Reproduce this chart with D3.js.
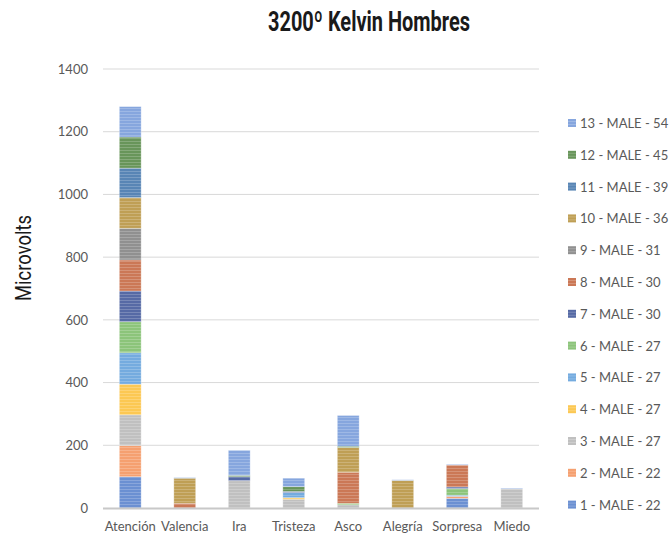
<!DOCTYPE html>
<html>
<head>
<meta charset="utf-8">
<script src="https://cdn.jsdelivr.net/npm/d3@7"></script>
<style>
  html, body { margin: 0; padding: 0; background: #fff; }
  svg { display: block; }
</style>
</head>
<body>
<svg id="chart" width="672" height="537"></svg>
<script>
// Emotion categories on the x axis
const categories = ["Atención", "Valencia", "Ira", "Tristeza", "Asco", "Alegría", "Sorpresa", "Miedo"];

// One array per subject (microvolts per emotion)
const s1  = [100,  0,  0,  0,  0,  0, 31,  0];
const s2  = [ 99,  0,  0,  0,  0,  0,  6,  0];
const s3  = [ 98,  0, 87, 28, 10,  0,  0, 61];
const s4  = [ 98,  0,  0,  5,  0,  0,  0,  0];
const s5  = [100,  0,  0, 16,  0,  0,  4,  0];
const s6  = [ 99,  0,  0,  0,  5,  0, 21,  0];
const s7  = [ 98,  0, 13,  4,  0,  0,  5,  0];
const s8  = [ 99, 15,  0,  0, 99,  0, 70,  0];
const s9  = [101,  0,  0,  0,  0,  0,  0,  0];
const s10 = [ 98, 80,  0,  0, 79, 88,  0,  0];
const s11 = [ 94,  0,  0,  0,  0,  0,  0,  0];
const s12 = [ 99,  0,  4, 15,  4,  0,  0,  0];
const s13 = [ 97,  2, 80, 27, 98,  2,  2,  2];

const seriesNames = [
  "1 - MALE - 22", "2 - MALE - 22", "3 - MALE - 27", "4 - MALE - 27", "5 - MALE - 27",
  "6 - MALE - 27", "7 - MALE - 30", "8 - MALE - 30", "9 - MALE - 31", "10 - MALE - 36",
  "11 - MALE - 39", "12 - MALE - 45", "13 - MALE - 54"
];
const seriesValues = [s1, s2, s3, s4, s5, s6, s7, s8, s9, s10, s11, s12, s13];
const seriesColors = [
  "#6b90d2", "#f5a070", "#c0c0c0", "#fcc853", "#74abdf", "#8cc47a", "#566aa5",
  "#cb7856", "#909090", "#bf9f55", "#5885b5", "#68955a", "#86a6de"
];
const yTicks = [0, 200, 400, 600, 800, 1000, 1200, 1400];

const svg = d3.select("#chart");
const margin = { left: 103, right: 539, top: 69, bottom: 508 };

// Flatten into rows for d3.stack
const keys = seriesNames;
const rows = categories.map((c, i) => {
  const r = { cat: c };
  keys.forEach((k, j) => { r[k] = seriesValues[j][i]; });
  return r;
});
const stacked = d3.stack().keys(keys)(rows);

const x = d3.scaleBand().domain(categories).range([margin.left, margin.right]).paddingInner(0.6).paddingOuter(0.3);
const y = d3.scaleLinear().domain([0, 1400]).range([margin.bottom, margin.top]);
const color = d3.scaleOrdinal().domain(keys).range(seriesColors);

// Horizontal stripe texture used on bars and legend keys
const defs = svg.append("defs");
const pat = defs.append("pattern")
  .attr("id", "stripes").attr("patternUnits", "userSpaceOnUse")
  .attr("width", 6).attr("height", 3);
pat.append("rect").attr("width", 6).attr("height", 1).attr("fill", "#ffffff").attr("opacity", 0.2);

// Gridlines
svg.append("g")
  .selectAll("line")
  .data(yTicks.filter(d => d > 0))
  .join("line")
  .attr("x1", margin.left).attr("x2", margin.right)
  .attr("y1", d => y(d)).attr("y2", d => y(d))
  .attr("stroke", "#d9d9d9").attr("stroke-width", 1);

// Y axis labels
const yAxis = svg.append("g")
  .attr("transform", `translate(${margin.left},0)`)
  .call(d3.axisLeft(y).tickValues(yTicks).tickFormat(d3.format("d")).tickSize(0).tickPadding(15));
yAxis.select(".domain").remove();
yAxis.selectAll("text")
  .attr("font-family", "Lato, 'Open Sans', sans-serif")
  .attr("font-size", 13).attr("fill", "#595959");

// Stacked bars
const layers = svg.append("g")
  .selectAll("g")
  .data(stacked)
  .join("g")
  .attr("fill", d => color(d.key));

layers.selectAll("rect.bar")
  .data(d => d.filter(s => s[1] - s[0] > 0))
  .join("rect")
  .attr("class", "bar")
  .attr("x", d => x(d.data.cat))
  .attr("y", d => y(d[1]))
  .attr("width", x.bandwidth())
  .attr("height", d => y(d[0]) - y(d[1]));

layers.selectAll("rect.tex")
  .data(d => d.filter(s => s[1] - s[0] > 0))
  .join("rect")
  .attr("class", "tex")
  .attr("x", d => x(d.data.cat))
  .attr("y", d => y(d[1]))
  .attr("width", x.bandwidth())
  .attr("height", d => y(d[0]) - y(d[1]))
  .attr("fill", "url(#stripes)")
  .attr("stroke", "#ffffff").attr("stroke-opacity", 0.35).attr("stroke-width", 0.8);

// Baseline
svg.append("line")
  .attr("x1", margin.left).attr("x2", margin.right)
  .attr("y1", y(0) + 0.5).attr("y2", y(0) + 0.5)
  .attr("stroke", "#c8c8c8").attr("stroke-width", 2);

// Category labels
const xAxis = svg.append("g")
  .attr("transform", `translate(0,${y(0)})`)
  .call(d3.axisBottom(x).tickSize(0).tickPadding(14));
xAxis.select(".domain").remove();
xAxis.selectAll("text")
  .attr("font-family", "Lato, 'Open Sans', sans-serif")
  .attr("font-size", 13).attr("fill", "#595959");

// Legend (series 13 at the top down to series 1)
const legend = svg.append("g");
const legendItems = legend.selectAll("g")
  .data(keys.slice().reverse())
  .join("g")
  .attr("transform", (d, i) => `translate(568,${124 + i * 31.8})`);
legendItems.append("rect")
  .attr("x", 0).attr("y", -5).attr("width", 8).attr("height", 8)
  .attr("fill", d => color(d));
legendItems.append("rect")
  .attr("x", 0).attr("y", -5).attr("width", 8).attr("height", 8)
  .attr("fill", "url(#stripes)");
legendItems.append("text")
  .attr("x", 12).attr("y", 4)
  .attr("font-family", "Lato, 'Open Sans', sans-serif")
  .attr("font-size", 13).attr("fill", "#595959")
  .text(d => d);

// Title
svg.append("text")
  .attr("x", 369).attr("y", 31)
  .attr("text-anchor", "middle")
  .attr("font-family", "Roboto, 'Open Sans', sans-serif")
  .attr("font-weight", "bold").attr("font-size", 28)
  .attr("textLength", 202).attr("lengthAdjust", "spacingAndGlyphs")
  .attr("fill", "#1a1a1a")
  .text("3200º Kelvin Hombres");

// Y axis title
svg.append("text")
  .attr("transform", "translate(31,258) rotate(-90)")
  .attr("text-anchor", "middle")
  .attr("font-family", "Roboto, 'Open Sans', sans-serif")
  .attr("font-size", 22)
  .attr("textLength", 86).attr("lengthAdjust", "spacingAndGlyphs")
  .attr("fill", "#1a1a1a")
  .text("Microvolts");
</script>
</body>
</html>
